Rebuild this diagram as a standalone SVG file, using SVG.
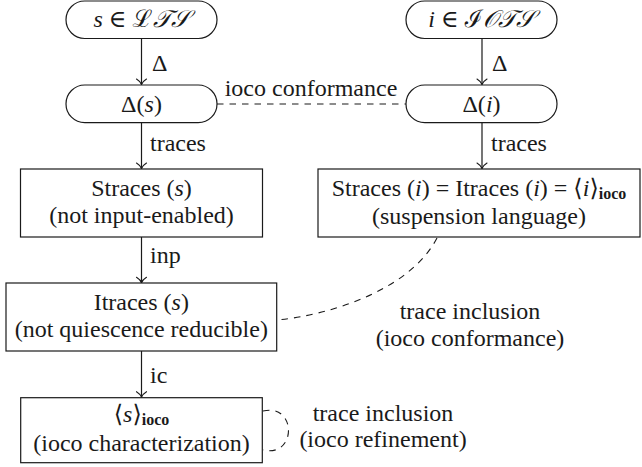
<svg xmlns="http://www.w3.org/2000/svg" width="642" height="467" viewBox="0 0 642 467">
<style>
text{font-family:"Liberation Serif","DejaVu Serif",serif;font-size:24px;fill:#1a1a1a}
.c{text-anchor:middle}
.it{font-style:italic}
.sub{font-weight:bold;font-size:16px}
.box{fill:#fff;stroke:#1a1a1a;stroke-width:1.2}
.edge{fill:none;stroke:#1a1a1a;stroke-width:1.2}
.dash{fill:none;stroke:#1a1a1a;stroke-width:1.1;stroke-dasharray:6.5 6}
.cal{font-family:"DejaVu Serif","Noto Sans","DejaVu Sans",serif;font-style:italic}
</style>
<defs>
<marker id="arr" markerUnits="userSpaceOnUse" markerWidth="14" markerHeight="14" refX="0" refY="0" viewBox="-7 -7 14 14" orient="auto" overflow="visible">
<path d="M-5.5,-5 C-3.5,-1.8 -1.3,-0.4 0,0 C-1.3,0.4 -3.5,1.8 -5.5,5" fill="none" stroke="#1a1a1a" stroke-width="1.1" stroke-linecap="round"/>
</marker>
</defs>
<g id="connectors">
<line class="edge" x1="141.5" y1="38.5" x2="141.5" y2="84.5" marker-end="url(#arr)"/>
<line class="edge" x1="482" y1="38.5" x2="482" y2="84.5" marker-end="url(#arr)"/>
<line class="edge" x1="141.5" y1="122.7" x2="141.5" y2="168.5" marker-end="url(#arr)"/>
<line class="edge" x1="482" y1="122.7" x2="482" y2="168.5" marker-end="url(#arr)"/>
<line class="edge" x1="141.5" y1="237" x2="141.5" y2="282.8" marker-end="url(#arr)"/>
<line class="edge" x1="141.5" y1="351" x2="141.5" y2="397.2" marker-end="url(#arr)"/>
<line class="dash" x1="217" y1="104" x2="406" y2="104"/>
<path class="dash" d="M437,238 C410,290 330,315 277,320"/>
<path class="dash" d="M263,411 C297,403 297,458 263,450"/>
<text x="152" y="71">Δ</text>
<text x="492" y="71">Δ</text>
<text x="311" y="96" class="c">ioco conformance</text>
<text x="150" y="151">traces</text>
<text x="491" y="151">traces</text>
<text x="150" y="263">inp</text>
<text x="150" y="383">ic</text>
<text x="470" y="319" class="c">trace inclusion</text>
<text x="470" y="346" class="c">(ioco conformance)</text>
<text x="383" y="421" class="c">trace inclusion</text>
<text x="383" y="447" class="c">(ioco refinement)</text>
</g>
<g id="n_s">
<rect class="box" x="66" y="1" width="151" height="37.5" rx="18.7"/>
<text x="141.5" y="27" class="c"><tspan class="it">s</tspan> ∈ <tspan class="cal">ℒ𝒯𝒮</tspan></text>
</g>
<g id="n_i">
<rect class="box" x="406" y="1" width="151" height="37.5" rx="18.7"/>
<text x="481.5" y="27" class="c"><tspan class="it">i</tspan> ∈ <tspan class="cal">ℐ𝒪𝒯𝒮</tspan></text>
</g>
<g id="n_ds">
<rect class="box" x="66" y="85" width="151" height="37.7" rx="18.8"/>
<text x="141.5" y="111.5" class="c">Δ(<tspan class="it">s</tspan>)</text>
</g>
<g id="n_di">
<rect class="box" x="406" y="85" width="151" height="37.7" rx="18.8"/>
<text x="481.5" y="111.5" class="c">Δ(<tspan class="it">i</tspan>)</text>
</g>
<g id="n_straces_s">
<rect class="box" x="20.5" y="169" width="242" height="68"/>
<text x="141.5" y="196" class="c">Straces (<tspan class="it">s</tspan>)</text>
<text x="141.5" y="223" class="c">(not input-enabled)</text>
</g>
<g id="n_straces_i">
<rect class="box" x="318" y="169" width="322" height="68"/>
<text x="479" y="196" class="c">Straces (<tspan class="it">i</tspan>) = Itraces (<tspan class="it">i</tspan>) = ⟨<tspan class="it">i</tspan>⟩<tspan class="sub" dy="3">ioco</tspan></text>
<text x="479" y="224" class="c">(suspension language)</text>
</g>
<g id="n_itraces">
<rect class="box" x="6" y="283" width="270.7" height="68"/>
<text x="141.3" y="310" class="c">Itraces (<tspan class="it">s</tspan>)</text>
<text x="141.3" y="337" class="c">(not quiescence reducible)</text>
</g>
<g id="n_ioco">
<rect class="box" x="20.7" y="397.7" width="241.6" height="65"/>
<text x="141.5" y="422" class="c">⟨<tspan class="it">s</tspan>⟩<tspan class="sub" dy="3">ioco</tspan></text>
<text x="141.5" y="451" class="c">(ioco characterization)</text>
</g>
</svg>
